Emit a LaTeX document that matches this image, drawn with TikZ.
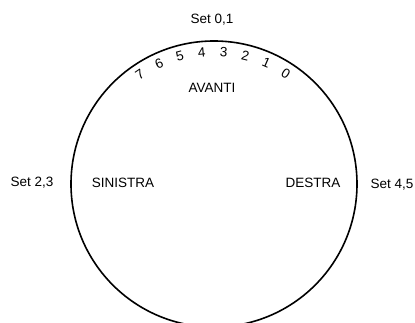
\documentclass[tikz,border=0pt]{standalone}
\usepackage{fontspec}
\setmainfont{Liberation Sans}
\usetikzlibrary{calc}
\begin{document}
\begin{tikzpicture}[x=1pt,y=1pt,
  lbl/.style={font=\fontsize{13.5}{16}\selectfont, inner sep=0pt},
  digit/.style={font=\fontsize{13.5}{16}\selectfont, inner sep=0pt}]
\useasboundingbox (0,0) rectangle (415,322);
\clip (0,0) rectangle (415,322);
\coordinate (c) at (214,138);
\node[draw, circle, line width=1.6pt, minimum size=286pt, inner sep=0pt] (disk) at (c) {};
\foreach \d [count=\i from 0] in {0,1,2,3,4,5,6,7} {
  \pgfmathsetmacro{\ang}{57+9.6*\i}
  \node[digit, rotate=\ang-90] (d\d) at ($(c)+(\ang:132)$) {\d};
}
\node[lbl] (set01) at (212,302) {Set 0,1};
\node[lbl] (avanti) at (212,234) {AVANTI};
\node[lbl] (set23) at (32,139) {Set 2,3};
\node[lbl] (sinistra) at (123,139) {SINISTRA};
\node[lbl] (destra) at (313,139) {DESTRA};
\node[lbl] (set45) at (392,137) {Set 4,5};
\end{tikzpicture}
\end{document}
